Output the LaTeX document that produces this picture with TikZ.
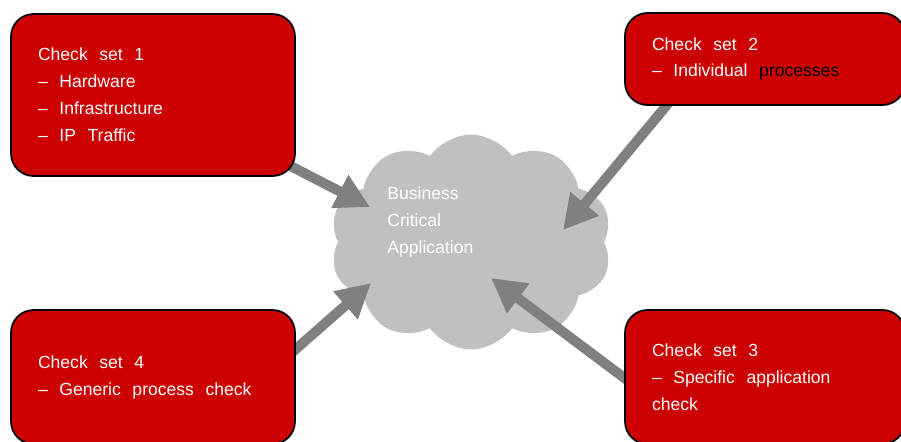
\documentclass[tikz,border=0pt]{standalone}
\usepackage{fontspec}
\setmainfont{Liberation Sans}
\usetikzlibrary{shapes}
\usetikzlibrary{arrows.meta}
\usetikzlibrary{positioning}
\usetikzlibrary{calc}
\usetikzlibrary{backgrounds}
\definecolor{boxred}{HTML}{CC0000}
\definecolor{cloudgray}{HTML}{C0C0C0}
\definecolor{feedgray}{HTML}{808080}
\newcommand{\widewords}{\spaceskip=6.6pt plus 1pt minus 1pt\relax}
\tikzstyle{checkset}=[
        rectangle,
        draw=black,
        line width=1pt,
        rounded corners=0.45cm,
        fill=boxred,
        text=white,
        align=left,
        inner xsep=0.54cm,
        inner ysep=0pt,
        font=\fontsize{10}{15.3}\selectfont,
        execute at begin node=\widewords
]
\tikzstyle{appcloud}=[cloud,cloud puffs=10,cloud puff arc=110,fill=cloudgray,draw=none,
minimum width=5.64cm,minimum height=4.3cm]
\tikzstyle{apptext}=[text=white,align=left,inner sep=0pt,
font=\fontsize{10}{15.3}\selectfont]
\tikzstyle{feed}=[-{Triangle[length=0.68cm,width=0.7cm]},line width=0.2cm,draw=feedgray]
\begin{document}
\begin{tikzpicture}[x=0.02cm,y=-0.02cm]
\useasboundingbox (0,0) rectangle (901,441);
\clip (0,0) rectangle (901,441);
\node[checkset,text width=4.6cm,minimum height=3.24cm] (cs1) at (153,95)
  {Check set 1\\– Hardware\\– Infrastructure\\– IP Traffic};
\node[checkset,text width=4.52cm,minimum height=1.84cm] (cs2) at (765,59)
  {Check set 2\\– Individual {\color{black}processes}};
\node[checkset,text width=4.52cm,minimum height=2.68cm] (cs3) at (765,377)
  {Check set 3\\– Specific application\\check};
\node[checkset,text width=4.6cm,minimum height=2.68cm] (cs4) at (153,377)
  {Check set 4\\– Generic process check};
\node[apptext,anchor=west] (bca) at (387,222) {Business\\Critical\\Application};
%cloud and arrows behind the boxes
\begin{pgfonlayer}{background}
\node[appcloud] (app) at (471,242) {};
\coordinate (tip1) at ($(app.center)+(-101,-35)$);
\coordinate (tip2) at ($(app.center)+(92,-12)$);
\coordinate (tip3) at ($(app.center)+(20,36)$);
\coordinate (tip4) at ($(app.center)+(-100,41)$);
\draw[feed] (cs1.center) -- (tip1);
\draw[feed] ($(cs2.west)+(81,0)$) -- (tip2);
\draw[feed] ($(cs3.west)+(75,57)$) -- (tip3);
\draw[feed] ($(cs4.west)+(189,57)$) -- (tip4);
\end{pgfonlayer}
\end{tikzpicture}
\end{document}
